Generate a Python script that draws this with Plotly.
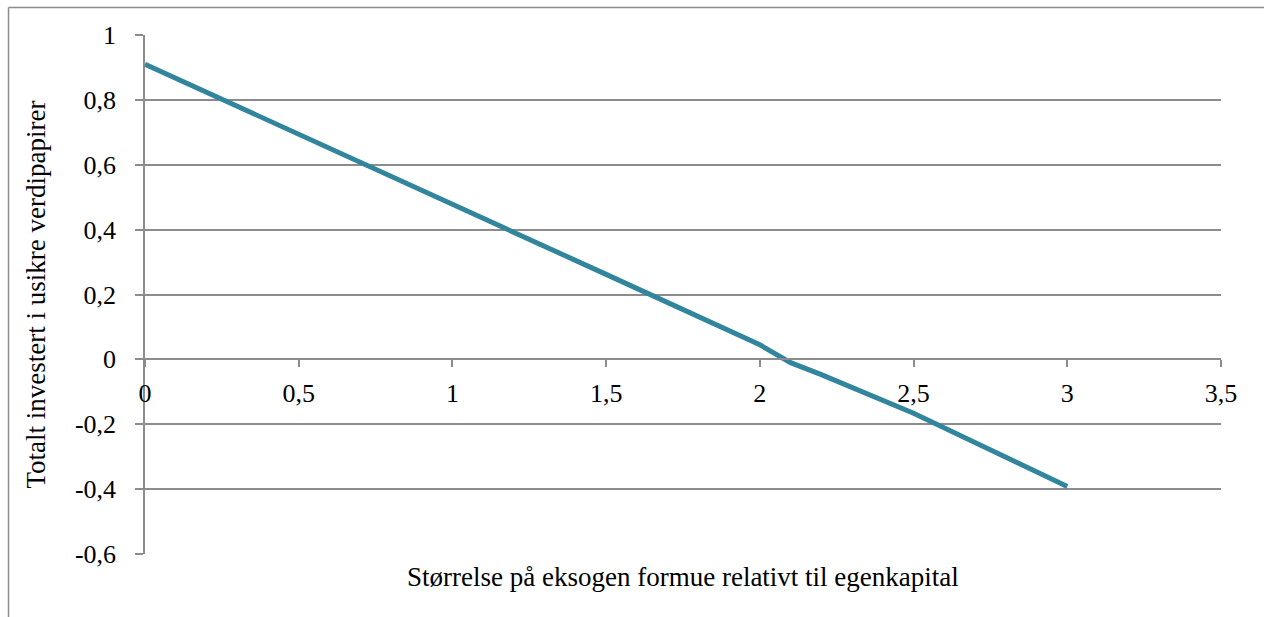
import plotly.graph_objects as go

# Exogenous wealth relative to equity vs. total invested in risky securities
wealth_ratio = [0, 0.5, 1.0, 1.5, 2.0, 2.1, 2.2, 2.5, 3.0]
risky_share = [0.91, 0.695, 0.48, 0.262, 0.045, -0.01, -0.047, -0.166, -0.392]

x_ticks = [0, 0.5, 1, 1.5, 2, 2.5, 3, 3.5]
x_tick_text = ["0", "0,5", "1", "1,5", "2", "2,5", "3", "3,5"]
y_ticks = [-0.6, -0.4, -0.2, 0, 0.2, 0.4, 0.6, 0.8, 1.0]
y_tick_text = ["-0,6", "-0,4", "-0,2", "0", "0,2", "0,4", "0,6", "0,8", "1"]

x_title = "Størrelse på eksogen formue relativt til egenkapital"
y_title = "Totalt investert i usikre verdipapirer"

W, H = 1264, 617
L, R, T, B = 145, 43, 35, 63
axis_grey = "#8c8c8c"
font_family = "Liberation Serif, Times New Roman, serif"

fig = go.Figure()
fig.add_trace(go.Scatter(
    x=wealth_ratio, y=risky_share, mode="lines",
    line=dict(color="#31859C", width=5),
    showlegend=False, hoverinfo="skip",
))

y_min, y_max = -0.6, 1.0
fig.update_layout(
    width=W, height=H,
    margin=dict(l=L, r=R, t=T, b=B, pad=0),
    paper_bgcolor="white", plot_bgcolor="white",
    font=dict(family=font_family, size=26, color="black"),
    xaxis=dict(
        range=[0, 3.5], tickvals=x_ticks, ticktext=x_tick_text,
        showgrid=False, zeroline=False,
        showline=True, linecolor=axis_grey, linewidth=1.5,
        ticks="outside", ticklen=7, tickcolor=axis_grey, tickwidth=1.5,
        anchor="free", position=(0 - y_min) / (y_max - y_min),
        ticklabelstandoff=4,
        tickfont=dict(size=26),
    ),
    yaxis=dict(
        range=[y_min, y_max], tickvals=y_ticks, ticktext=y_tick_text,
        showgrid=True, gridcolor=axis_grey, gridwidth=1.5,
        zeroline=False,
        showline=True, linecolor=axis_grey, linewidth=1.5,
        ticks="outside", ticklen=8, tickcolor=axis_grey, tickwidth=1.5,
        ticklabelstandoff=14,
        tickfont=dict(size=26),
    ),
    annotations=[
        dict(text=x_title, xref="paper", yref="paper", x=0.5,
             y=-(577 - (H - B)) / (H - T - B), yanchor="middle",
             showarrow=False, font=dict(size=27)),
        dict(text=y_title, xref="paper", yref="paper",
             x=-(L - 35) / (W - L - R), xanchor="center",
             y=0.5, yanchor="middle", textangle=-90,
             showarrow=False, font=dict(size=27)),
    ],
    shapes=[
        # outer chart frame (left and top edges visible)
        dict(type="line", xref="paper", yref="paper",
             x0=-(L - 8.5) / (W - L - R), x1=(W - L) / (W - L - R),
             y0=1 + (T - 7.5) / (H - T - B), y1=1 + (T - 7.5) / (H - T - B),
             line=dict(color=axis_grey, width=1.5)),
        dict(type="line", xref="paper", yref="paper",
             x0=-(L - 8.5) / (W - L - R), x1=-(L - 8.5) / (W - L - R),
             y0=1 + (T - 7.5) / (H - T - B), y1=-B / (H - T - B),
             line=dict(color=axis_grey, width=1.5)),
    ],
)

fig.write_html("out.html")
